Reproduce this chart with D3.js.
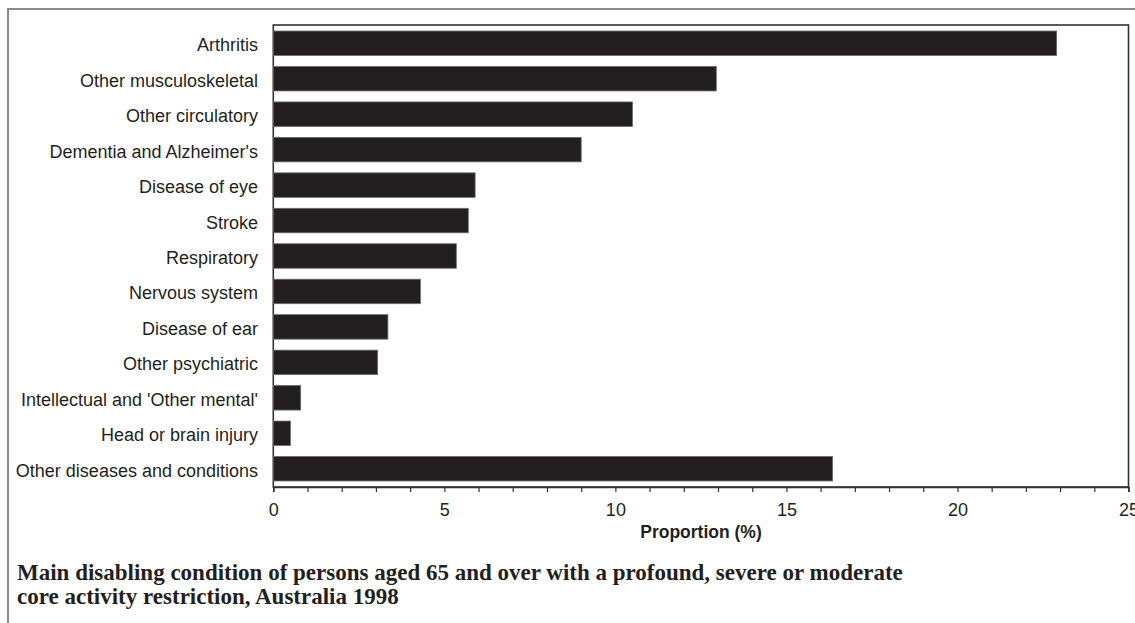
<!DOCTYPE html>
<html><head><meta charset="utf-8">
<script src="https://cdn.jsdelivr.net/npm/d3@7"></script>
<style>
html,body{margin:0;padding:0;background:#fff;}
svg{display:block;}
</style></head>
<body>
<script>
const categories = ["Arthritis","Other musculoskeletal","Other circulatory","Dementia and Alzheimer's","Disease of eye","Stroke","Respiratory","Nervous system","Disease of ear","Other psychiatric","Intellectual and 'Other mental'","Head or brain injury","Other diseases and conditions"];
const values = [22.9,12.95,10.5,9.0,5.9,5.7,5.35,4.3,3.35,3.05,0.8,0.5,16.35];
const tickValues = [0,1,2,3,4,5,6,7,8,9,10,11,12,13,14,15,16,17,18,19,20,21,22,23,24,25];
const tickLabels = ["0","5","10","15","20","25"];
const xTitle = "Proportion (%)";
const captionLines = ["Main disabling condition of persons aged 65 and over with a profound, severe or moderate","core activity restriction, Australia 1998"];

const W = 1135, H = 623;
const pLeft = 273.3, pRight = 1128.5, pTop = 25, pBottom = 487;
const svg = d3.select("body").append("svg").attr("width", W).attr("height", H);

// outer frame lines
svg.append("line").attr("x1",8).attr("x2",W).attr("y1",9).attr("y2",9).attr("stroke","#8a8a8a").attr("stroke-width",2);
svg.append("line").attr("x1",8).attr("x2",8).attr("y1",8).attr("y2",H).attr("stroke","#8a8a8a").attr("stroke-width",2);

const x = d3.scaleLinear().domain([0,25]).range([pLeft,pRight]);
const y = d3.scaleBand().domain(categories).range([pTop,pBottom]).paddingInner(0.31).paddingOuter(0.17);

// plot box
svg.append("rect").attr("x",pLeft).attr("y",pTop).attr("width",pRight-pLeft).attr("height",pBottom-pTop)
  .attr("fill","none").attr("stroke","#333").attr("stroke-width",1.6);

// bars
svg.selectAll("rect.bar").data(categories).enter().append("rect").attr("class","bar")
  .attr("x", x(0)).attr("y", d=>y(d))
  .attr("width", (d,i)=>x(values[i])-x(0)).attr("height", y.bandwidth())
  .attr("fill","#231f20").attr("stroke","#6a6a6a").attr("stroke-width",0.8);

// category labels
svg.selectAll("text.cat").data(categories).enter().append("text").attr("class","cat")
  .attr("x", 258).attr("y", d=>y(d)+y.bandwidth()/2+8)
  .attr("text-anchor","end").attr("font-family","Liberation Sans, Arial, sans-serif")
  .attr("font-size","18px").attr("fill","#231f20").text(d=>d);

// x axis
const axis = d3.axisBottom(x).tickValues(tickValues).tickSize(5).tickPadding(0)
  .tickFormat(d => tickLabels.includes(String(d)) ? String(d) : "");
const gx = svg.append("g").attr("transform",`translate(0,${pBottom})`).call(axis);
gx.select(".domain").attr("stroke","#333").attr("stroke-width",1.6);
gx.selectAll(".tick line").attr("stroke","#333").attr("stroke-width",1.2);
gx.selectAll(".tick text").attr("font-family","Liberation Sans, Arial, sans-serif")
  .attr("font-size","18px").attr("fill","#231f20").attr("dy",null).attr("y",29);

svg.append("text").attr("x", 701).attr("y", 537.5).attr("text-anchor","middle")
  .attr("font-family","Liberation Sans, Arial, sans-serif").attr("font-weight","bold")
  .attr("font-size","17.5px").attr("fill","#231f20").text(xTitle);

// caption
svg.selectAll("text.cap").data(captionLines).enter().append("text").attr("class","cap")
  .attr("x", 17).attr("y",(d,i)=>580+i*24)
  .attr("font-family","Liberation Serif, Times New Roman, serif").attr("font-weight","bold")
  .attr("font-size","23px").attr("fill","#231f20").text(d=>d);
</script>
</body></html>
